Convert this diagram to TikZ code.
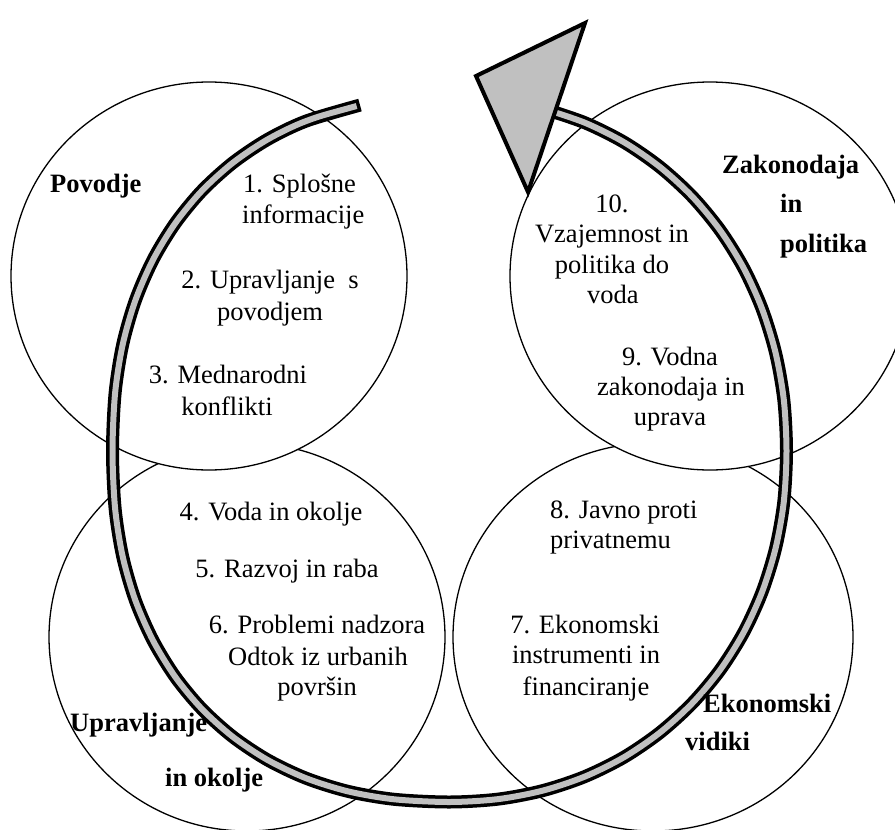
\documentclass[tikz,border=0pt]{standalone}
\usepackage{fontspec}
\setmainfont{Liberation Serif}
\definecolor{ringgray}{RGB}{192,192,192}
\begin{document}
\begin{tikzpicture}[x=1pt,y=-1pt,
  txt/.style={inner sep=0pt, anchor=base, font=\fontsize{26.5}{31}\selectfont},
  txtl/.style={txt, anchor=base west},
  lbl/.style={inner sep=0pt, anchor=base west, font=\fontsize{26.5}{31}\selectfont\bfseries},
  circ/.style={draw=black, line width=1.3pt, fill=white},
  ringout/.style={draw=black, line width=13pt, line cap=butt, line join=round},
  ringin/.style={draw=ringgray, line width=6pt, line cap=butt, line join=round, shorten <=3.5pt},
  head/.style={draw=black, line width=4pt, fill=ringgray, line join=miter}
]
\useasboundingbox (0,0) rectangle (895,830);
\begin{scope}
\clip (0,0) rectangle (895,830);
\draw[circ] (247,637) ellipse [x radius=198pt, y radius=194pt];
\draw[circ] (209,276) ellipse [x radius=198pt, y radius=194pt];
\draw[circ] (653,637) ellipse [x radius=200pt, y radius=194pt];
\draw[circ] (710,276) ellipse [x radius=200pt, y radius=194pt];
\end{scope}
% ring arrow
\def\ringpts{(360.0,105.1) (306.0,121.1) (267.5,139.5) (232.7,162.9) (201.8,190.9) (175.2,223.3) (153.0,259.8) (135.4,300.3) (122.7,344.5) (115.1,393.1) (112.5,451) (115.1,508.4) (122.7,556.6) (135.4,600.5) (153.0,640.5) (175.2,676.8) (201.8,708.9) (232.7,736.7) (267.5,759.9) (306.0,778.2) (348.2,791.4) (394.3,799.3) (449.5,802) (498.2,799.1) (542.8,790.6) (584.8,776.6) (624.0,757.2) (659.8,732.7) (692.0,703.5) (720.0,670.1) (743.5,632.7) (762.1,591.9) (775.6,548.2) (783.8,501.7) (786.5,451) (783.8,399.8) (775.6,353.0) (762.1,308.9) (743.5,267.8) (720.0,230.1) (692.0,196.3) (659.8,166.9) (624.0,142.2) (584.8,122.7) (542.8,108.5)}
\draw[ringout] plot[smooth] coordinates {\ringpts};
\draw[ringin] plot[smooth] coordinates {\ringpts};
\draw[head] (585,23) -- (476,76) -- (528,192) -- cycle;
% labels
\node[lbl] (povodje) at (50,192) {Povodje};
\node[lbl] (zak1) at (722,173) {Zakonodaja};
\node[lbl] (zak2) at (780,212) {in};
\node[lbl] (zak3) at (780,252) {politika};
\node[lbl] (upr1) at (70,731) {Upravljanje};
\node[lbl] (upr2) at (165,786) {in okolje};
\node[lbl] (eko1) at (703,712) {Ekonomski};
\node[lbl] (eko2) at (685,750) {vidiki};
% top-left
\node[txtl] (t1a) at (243,192) {1. Splošne};
\node[txtl] (t1b) at (242,223) {informacije};
\node[txt] (t2a) at (270,288) {2. Upravljanje\ \ s};
\node[txt] (t2b) at (270,320) {povodjem};
\node[txt] (t3a) at (228,383) {3. Mednarodni};
\node[txt] (t3b) at (227,415) {konflikti};
% bottom-left
\node[txt] (t4) at (271,520) {4. Voda in okolje};
\node[txt] (t5) at (287,577) {5. Razvoj in raba};
\node[txt] (t6a) at (317,633) {6. Problemi nadzora};
\node[txt] (t6b) at (318,665) {Odtok iz urbanih};
\node[txt] (t6c) at (317,695) {površin};
% top-right
\node[txt] (t10a) at (612,212) {10.};
\node[txt] (t10b) at (612,242) {Vzajemnost in};
\node[txt] (t10c) at (612,273) {politika do};
\node[txt] (t10d) at (613,303) {voda};
\node[txt] (t9a) at (670,365) {9. Vodna};
\node[txt] (t9b) at (671,395) {zakonodaja in};
\node[txt] (t9c) at (670,425) {uprava};
% bottom-right
\node[txtl] (t8a) at (550,518) {8. Javno proti};
\node[txtl] (t8b) at (550,548) {privatnemu};
\node[txt] (t7a) at (585,633) {7. Ekonomski};
\node[txt] (t7b) at (586,663) {instrumenti in};
\node[txt] (t7c) at (586,695) {financiranje};
\end{tikzpicture}
\end{document}
